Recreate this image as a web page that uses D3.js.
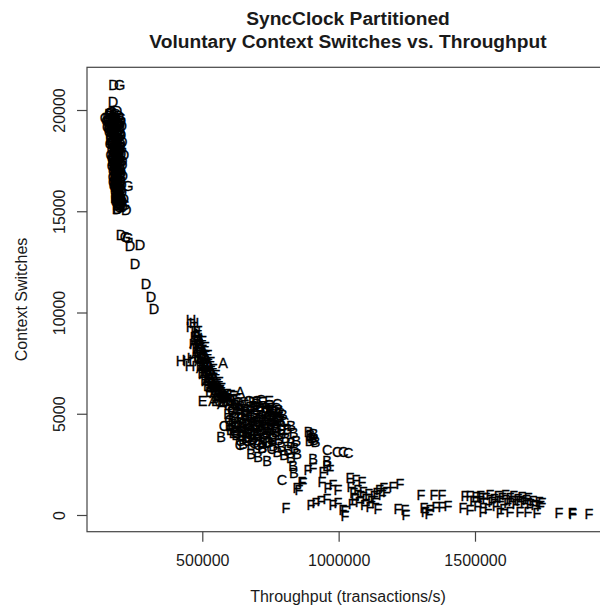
<!DOCTYPE html>
<html><head><meta charset="utf-8">
<script src="https://cdn.jsdelivr.net/npm/d3@7"></script>
<style>body{margin:0;background:#fff} svg{display:block}</style>
</head><body>
<script>
const titleLines = ["SyncClock Partitioned", "Voluntary Context Switches vs. Throughput"];
const xLabel = "Throughput (transactions/s)";
const yLabel = "Context Switches";
const xTicks = [500000, 1000000, 1500000];
const yTicks = [0, 5000, 10000, 15000, 20000];
const xLimits = [77200, 1991400];
const yLimits = [-825, 22109];

// [throughput, context switches]
const seriesD = [
[174600,21225],[172900,20385],[187600,19941],[160000,19820],[176000,19760],[194000,19700],[152000,19620],[183000,19560],
[201000,19480],[168000,19420],[190000,19340],[158000,19270],[205000,19210],[176000,19130],[196000,19050],[165000,18960],
[186000,18880],[202000,18790],[171000,18700],[193000,18620],[180000,18530],[206000,18440],[168000,18360],[188000,18270],
[199000,18180],[175000,18090],[192000,18000],[183000,17910],[202000,17830],[172000,17750],[195000,17660],[184000,17570],
[206000,17480],[176000,17400],[197000,17310],[187000,17220],[180000,17130],[200000,17040],[190000,16950],[178000,16860],
[208000,16770],[192000,16680],[184000,16590],[199000,16500],[188000,16410],[204000,16320],[182000,16230],[195000,16140],
[187000,16050],[205000,15960],[193000,15870],[186000,15780],[201000,15690],[212000,15600],[191000,15510],[199000,15420],
[188000,15330],[207000,15240],[190000,15130],[221000,15080],[213000,17770],[206000,17280],[187500,15100],
[160000,19700],[170000,19550],[185000,19420],[195000,19280],[164000,19150],[182000,19000],[198000,18900],[174000,18800],
[162000,18550],[185000,18450],[200000,18350],[176000,18250],[196000,18050],[180000,17700],[190000,17550],[170000,17500],
[188000,17400],[194000,17000],[185000,16800],[202000,16900],[178000,16400],[190000,16250],[196000,15800],[181000,15650],
[205000,15500],
[201900,13821],[234900,13278],[271500,13327],[253200,12389],[293500,11402],[311800,10760],[322900,10168]
];
const seriesG = [
[196600,21225],[145000,19600],[162000,19880],[181000,19800],[170000,19680],[190000,19610],[157000,19520],[178000,19450],
[197000,19390],[164000,19310],[184000,19230],[153000,19160],[172000,19080],[192000,19000],[160000,18920],[180000,18840],
[199000,18760],[166000,18670],[187000,18590],[175000,18500],[196000,18410],[163000,18320],[183000,18230],[203000,18140],
[170000,18050],[188000,17960],[178000,17870],[166000,17790],[198000,17700],[185000,17610],[174000,17520],[191000,17430],
[181000,17340],[170000,17260],[194000,17170],[186000,17080],[175000,16990],[197000,16900],[183000,16810],[174000,16720],
[190000,16630],[180000,16540],[196000,16450],[227500,16240],[185000,16360],[178000,16270],[192000,16180],[200000,16090],
[182000,16000],[190000,15910],[198000,15820],[184000,15730],[194000,15640],[186000,15550],[203000,15460],[193000,15370],
[214000,15300],[196000,15200],
[150000,19450],[168000,19900],[200000,19600],[158000,19050],[176000,18950],[190000,18800],[170000,18400],[188000,18350],
[180000,18150],[192000,17850],[170000,17650],[200000,17500],[178000,17200],[190000,17100],[182000,16950],[200000,16700],
[186000,16550],[175000,16450],[198000,16250],[188000,16150],[190000,15750],[200000,15650],[185000,15450],[200000,15300],
[218000,13760],[227500,13673]
];
const seriesH = [
[458600,9625],[458600,9280],[469600,9477],[421900,7601],[443900,7650],[462200,7750],[454900,7355],[476000,9050],[483000,8750],[470000,8450]
];
const seriesA = [
[478000,8950],[490000,8700],[470000,8500],[495000,8350],[482000,8200],[505000,8100],[475000,7950],[498000,7850],
[515000,7700],[488000,7600],[508000,7450],[525000,7350],[495000,7250],[518000,7150],[537000,7000],[505000,6950],
[528000,6850],[548000,6700],[515000,6650],[540000,6550],[561000,6400],[530000,6350],[552000,6250],[575000,6100],
[543000,6050],[566000,5950],[588000,5850],[556000,5800],[580000,5700],[600000,5550],[572000,5500],[576600,7503],
[639000,6071],[539200,5642],
[485000,8450],[500000,8050],[512000,7300],[522000,7000],[534000,6700],[545000,6400],[556000,6100],[568000,5800],
[583000,5950],[595000,5750],[610000,5700],[520000,7600],[505000,7700],[530000,7200]
];
const seriesE = [
[485000,9100],[472000,8800],[500000,8600],[486000,8450],[478000,8250],[510000,8300],[492000,8000],[484000,7800],
[520000,7900],[502000,7500],[494000,7350],[530000,7550],[512000,7100],[500000,7000],[540000,7200],[522000,6800],
[510000,6700],[550000,6900],[533000,6500],[520000,6400],[562000,6600],[545000,6200],[528000,6100],[570000,6300],
[557000,5950],[500900,5642],[572000,5578],[590000,6000],
[490000,8250],[505000,7900],[495000,7700],[515000,7500],[525000,6950],[537000,6800],[540000,6350],[553000,6500],
[565000,6200],[578000,5900],[550000,5650],[585000,5650],[615000,5900],[605000,5950],
[600000,5700],[625000,5300],[655000,5450],[690000,5000],[730000,4550],[665000,4250],[700000,3950],[610000,4500],
[750000,4200],[640000,5000],[685000,5600],[720000,5600],[760000,4650],[595000,5000],[605000,4200],
[615000,4050],[640000,4150],[670000,3850],[735000,4450],[755000,3750],[690000,5350],[660000,4900],[715000,5150],
[625000,5750],[745000,5650],
[795000,4200],[780000,4850],[645000,3900],[685000,4400],[720000,4450],[750000,5300]
];
const seriesC = [
[630000,5600],[670000,5650],[715000,5700],[745000,5450],[610000,5200],[700000,5200],[775000,4800],[650000,4550],
[705000,4600],[740000,4800],[620000,4100],[675000,4000],[715000,4150],[760000,3900],[640000,3650],[690000,3550],
[730000,3800],[755000,3250],[660000,5200],[770000,5300],[600000,4700],[580000,4393],[638200,3455],
[615000,4850],[645000,4800],[675000,4850],[695000,4450],[725000,4700],[655000,4350],[690000,3950],[735000,3550],
[665000,3650],[705000,3450],[745000,4950],[765000,5150],[620000,5450],[700000,5650],[650000,5600],
[785000,5050],[800000,4600],[775000,5500],[635000,4400],[665000,4100],[700000,4300],[730000,4250],[680000,5000],
[710000,4800],
[957800,3208],[994500,3110],[1016500,3110],[1034800,3060],[792300,1728]
];
const seriesB = [
[640000,5400],[660000,5100],[700000,5500],[735000,5300],[760000,5000],[620000,4800],[680000,4700],[720000,4900],
[750000,4500],[645000,4300],[690000,4200],[735000,4100],[770000,4300],[660000,3800],[705000,3700],[745000,3600],
[625000,3950],[680000,3450],[720000,3300],[600000,4400],[655000,4950],
[610000,5100],[630000,4600],[650000,4100],[670000,4450],[690000,4800],[710000,4400],[730000,5050],[755000,4750],
[765000,4450],[700000,4050],[720000,3600],[685000,3750],[650000,3500],[635000,5250],[675000,5350],[710000,5350],
[748000,5150],[620000,4350],[660000,4650],[700000,4650],[740000,4300],[680000,4150],[725000,4000],[760000,4000],
[770000,4550],[785000,4700],[795000,4950],[780000,5200],[790000,4400],
[569300,3850],[678600,3011],[704300,2863],[719000,3307],[737300,2666],[826000,4393],
[770000,4100],[790000,4000],[812000,4250],[835000,4050],[780000,3700],[805000,3800],[825000,3550],[845000,3650],
[790000,3350],[815000,3200],[838000,3300],[800000,2950],[825000,2850],[848000,3000],[775000,3100],[760000,3400],
[890000,4100],[896000,3950],[903000,3800],[910000,3700],[915000,3600],[893000,3650],[908000,4000],
[906500,2764],[957800,2665],[957800,2419],[833000,2419],[836000,2100]
];
const seriesF = [
[806900,346],[847300,1333],[865600,1629],[854000,1234],[869300,1580],[887600,2221],[906000,2320],[942600,2122],
[968300,2221],[939000,1629],[961000,1333],[979300,1481],[997600,1234],[898600,494],[917000,592],[935300,691],
[957300,790],[979300,494],[997600,592],[1016000,247],[1023300,197],[1023300,-49],[1041600,1826],[1063600,1728],
[1085600,1629],
[1045000,1400],[1055000,1100],[1060000,800],[1070000,1250],[1080000,950],[1075000,650],[1090000,1150],[1100000,800],
[1095000,500],[1110000,1050],[1120000,700],[1115000,400],[1130000,950],[1140000,1100],[1135000,600],[1150000,1250],
[1160000,1000],[1165000,1350],[1175000,1150],[1050000,550],
[1225000,1530],[1199300,1382],[1144300,296],[1217600,296],[1243300,247],[1247000,0],
[1302000,987],[1349600,987],[1379000,987],[1313000,346],[1335000,247],[1357000,395],[1379000,395],[1401000,444],
[1331500,49],[1317000,148],
[1463300,938],[1456000,346],[1481600,247],[1481600,938],[1503600,888],[1525600,839],
[1495000,700],[1510000,450],[1520000,950],[1530000,600],[1540000,850],[1548000,300],[1555000,1000],[1562000,650],
[1570000,800],[1578000,450],[1585000,950],[1592000,700],[1600000,850],[1605000,300],[1612000,1000],[1620000,600],
[1628000,850],[1635000,700],[1642000,950],[1650000,550],[1657000,800],[1665000,700],[1672000,900],[1680000,600],
[1688000,750],[1695000,850],[1702000,550],[1712000,700],[1720000,500],[1735000,650],[1740000,450],[1745000,600],
[1529500,148],[1592000,99],[1628000,148],[1665000,148],[1694500,148],[1727500,99],
[1808000,99],[1856000,99],[1858000,49],[1918000,49]
];

const groups = [["A", seriesA], ["B", seriesB], ["C", seriesC], ["D", seriesD], ["E", seriesE], ["F", seriesF], ["G", seriesG], ["H", seriesH]];

const W = 600, H = 611;
const plotL = 87, plotR = 609, plotT = 67.3, plotB = 531.7;
const font = "'Liberation Sans', Arial, Helvetica, sans-serif";
const ink = "#1a1a1a";

const svg = d3.select("body").append("svg").attr("width", W).attr("height", H)
  .style("font-family", font);

const x = d3.scaleLinear().domain(xLimits).range([plotL, plotR]);
const y = d3.scaleLinear().domain(yLimits).range([plotB, plotT]);

// points (letters)
const pts = svg.append("g");
groups.forEach(([letter, data]) => {
  pts.selectAll(null).data(data).enter().append("text")
    .attr("x", d => x(d[0]))
    .attr("y", d => y(d[1]))
    .attr("dy", "0.36em")
    .attr("text-anchor", "middle")
    .attr("font-size", 14.5)
    .attr("fill", "#000")
    .attr("stroke", "#000")
    .attr("stroke-width", 0.3)
    .text(letter);
});

// frame
svg.append("rect").attr("x", plotL).attr("y", plotT)
  .attr("width", plotR - plotL).attr("height", plotB - plotT)
  .attr("fill", "none").attr("stroke", "#444").attr("stroke-width", 1.2);

// x axis
const gx = svg.append("g").attr("transform", `translate(0,${plotB})`)
  .call(d3.axisBottom(x).tickValues(xTicks).tickSize(10).tickFormat(d3.format("d")));
gx.select(".domain").remove();
gx.selectAll(".tick line").attr("stroke", "#444").attr("stroke-width", 1.2);
gx.selectAll(".tick text").attr("y", 34.3).attr("dy", 0)
  .attr("font-size", 16).attr("font-family", font).attr("fill", ink);

// y axis
const gy = svg.append("g").attr("transform", `translate(${plotL},0)`)
  .call(d3.axisLeft(y).tickValues(yTicks).tickSize(10).tickFormat(d3.format("d")));
gy.select(".domain").remove();
gy.selectAll(".tick line").attr("stroke", "#444").attr("stroke-width", 1.2);
gy.selectAll(".tick text")
  .attr("transform", "rotate(-90)")
  .attr("x", 0).attr("y", -22).attr("dy", 0)
  .attr("text-anchor", "middle")
  .attr("font-size", 16).attr("font-family", font).attr("fill", ink);

// titles
const cx = (plotL + plotR) / 2;
svg.append("text").attr("x", cx).attr("y", 25).attr("text-anchor", "middle")
  .attr("font-size", 19.2).attr("font-weight", "bold").attr("fill", ink).text(titleLines[0]);
svg.append("text").attr("x", cx).attr("y", 48.3).attr("text-anchor", "middle")
  .attr("font-size", 19.2).attr("font-weight", "bold").attr("fill", ink).text(titleLines[1]);

svg.append("text").attr("x", cx).attr("y", 602).attr("text-anchor", "middle")
  .attr("font-size", 16).attr("fill", ink).text(xLabel);

svg.append("text").attr("transform", `translate(27,${(plotT + plotB) / 2}) rotate(-90)`)
  .attr("text-anchor", "middle").attr("font-size", 16).attr("fill", ink).text(yLabel);
</script>
</body></html>
